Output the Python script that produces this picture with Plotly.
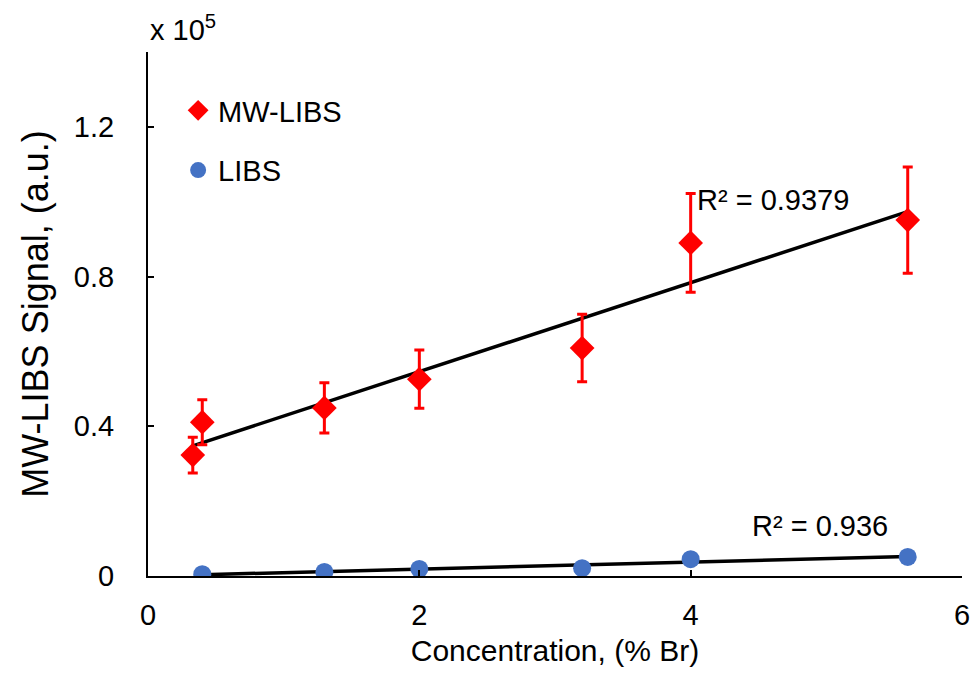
import numpy as np
import plotly.graph_objects as go

# Bromine concentration (% Br) and signal (x 10^5, a.u.)
mw_conc = [0.33, 0.4, 1.3, 2.0, 3.2, 4.0, 5.6]
mw_signal = [0.323, 0.411, 0.449, 0.526, 0.609, 0.890, 0.951]
mw_err = [0.048, 0.060, 0.067, 0.078, 0.090, 0.132, 0.142]

libs_conc = [0.4, 1.3, 2.0, 3.2, 4.0, 5.6]
libs_signal = [0.005, 0.011, 0.019, 0.021, 0.045, 0.051]
libs_err = [0.003, 0.003, 0.004, 0.004, 0.009, 0.011]

x_ticks = [0, 2, 4, 6]
x_tick_text = ["0", "2", "4", "6"]
y_ticks = [0, 0.4, 0.8, 1.2]
y_tick_text = ["0", "0.4", "0.8", "1.2"]

mw_r2_label = "R² = 0.9379"
libs_r2_label = "R² = 0.936"

FONT = "Liberation Sans, Arial, sans-serif"
RED = "#ff0000"
BLUE = "#4472c4"
TXT = 29


def linear_fit(x, y):
    slope, intercept = np.polyfit(x, y, 1)
    xs = np.array([min(x), max(x)])
    return xs, slope * xs + intercept


fig = go.Figure()

# Least-squares trendlines
for xs, ys in (linear_fit(mw_conc, mw_signal), linear_fit(libs_conc, libs_signal)):
    fig.add_trace(go.Scatter(
        x=xs, y=ys, mode="lines", showlegend=False, hoverinfo="skip",
        line=dict(color="black", width=3.5),
    ))

fig.add_trace(go.Scatter(
    x=mw_conc, y=mw_signal, mode="markers", name="MW-LIBS", legendgroup="mw",
    marker=dict(symbol="diamond", size=19, color=RED),
    error_y=dict(type="data", array=mw_err, color=RED, thickness=3, width=5),
))
fig.add_trace(go.Scatter(
    x=libs_conc, y=libs_signal, mode="markers", name="LIBS", legendgroup="libs",
    marker=dict(symbol="circle", size=18, color=BLUE),
    error_y=dict(type="data", array=libs_err, color=BLUE, thickness=3, width=5),
))

fig.add_annotation(x=4.03, y=1.005, text=mw_r2_label, showarrow=False,
                   xanchor="left", yanchor="middle",
                   font=dict(family=FONT, size=TXT, color="black"))
fig.add_annotation(x=4.44, y=0.134, text=libs_r2_label, showarrow=False,
                   xanchor="left", yanchor="middle",
                   font=dict(family=FONT, size=TXT, color="black"))
fig.add_annotation(xref="paper", yref="paper", x=0.0, y=1.0, xshift=0, yshift=4,
                   text="x 10<sup>5</sup>", showarrow=False,
                   xanchor="left", yanchor="bottom",
                   font=dict(family=FONT, size=TXT, color="black"))

axis_common = dict(
    showgrid=False, zeroline=False, showline=True, linecolor="black", linewidth=2,
    ticks="inside", ticklen=6, tickwidth=2, tickcolor="black",
    tickfont=dict(family=FONT, size=TXT, color="black"),
    automargin=False,
)

fig.update_layout(
    width=975, height=678,
    margin=dict(l=148, r=13, t=52, b=102),
    paper_bgcolor="white", plot_bgcolor="white",
    font=dict(family=FONT, color="black"),
    xaxis=dict(range=[0, 6], tickvals=x_ticks, ticktext=x_tick_text,
               ticklabelstandoff=12,
               title=dict(text="Concentration, (% Br)", standoff=10,
                          font=dict(family=FONT, size=30, color="black")),
               **axis_common),
    yaxis=dict(range=[0, 1.4], tickvals=y_ticks, ticktext=y_tick_text,
               ticklabelstandoff=26,
               title=dict(text="MW-LIBS Signal, (a.u.)", standoff=14,
                          font=dict(family=FONT, size=36, color="black")),
               **axis_common),
    legend=dict(x=0.037, y=0.937, xanchor="left", yanchor="top",
                font=dict(family=FONT, size=TXT, color="black"),
                bgcolor="rgba(0,0,0,0)", tracegroupgap=19, itemwidth=30),
    showlegend=True,
)

fig.write_html("out.html")
